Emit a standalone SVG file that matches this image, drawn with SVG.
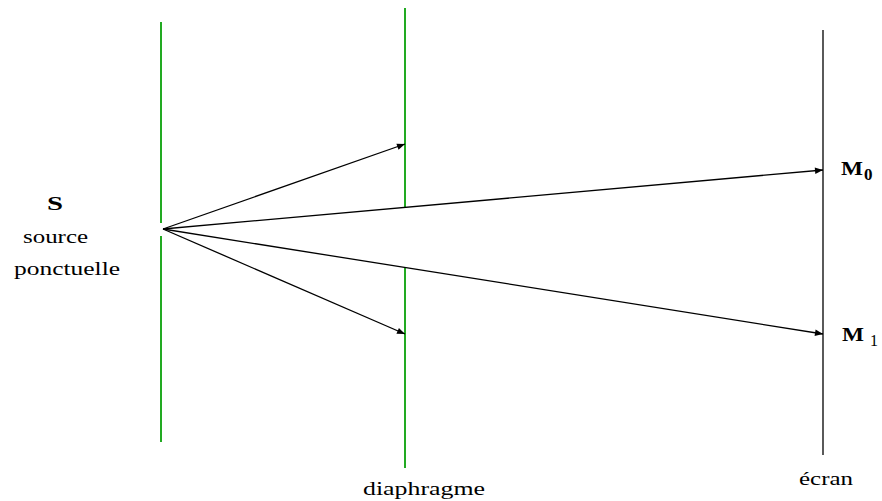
<svg xmlns="http://www.w3.org/2000/svg" width="882" height="501" viewBox="0 0 882 501">
<style>
.g{stroke:#22aa22;stroke-width:2;fill:none}
.k{stroke:#000;stroke-width:1.3;fill:none}
.t{font-family:"Times New Roman","Liberation Serif","DejaVu Serif",serif;font-size:19px;fill:#000}
.b{font-family:"Times New Roman","Liberation Serif","DejaVu Serif",serif;font-size:18px;font-weight:bold;fill:#000}
</style>
<defs>
<marker id="a" viewBox="0 0 10 10" refX="10" refY="5" markerWidth="10" markerHeight="8" markerUnits="userSpaceOnUse" orient="auto"><path d="M0,1 L10,5 L0,9 z" fill="#000"/></marker>
</defs>
<rect width="882" height="501" fill="#fff"/>
<g id="source">
<line class="g" x1="161" y1="22" x2="161" y2="223"/>
<line class="g" x1="161" y1="236" x2="161" y2="442"/>
<text class="b" x="47" y="210" textLength="16" lengthAdjust="spacingAndGlyphs">S</text>
<text class="t" x="23" y="243" textLength="65" lengthAdjust="spacingAndGlyphs">source</text>
<text class="t" x="14" y="275" textLength="106" lengthAdjust="spacingAndGlyphs">ponctuelle</text>
</g>
<g id="diaphragme">
<line class="g" x1="405" y1="8" x2="405" y2="208"/>
<line class="g" x1="405" y1="268" x2="405" y2="468"/>
<text class="t" x="363" y="495" textLength="122" lengthAdjust="spacingAndGlyphs">diaphragme</text>
</g>
<g id="ecran">
<line class="k" x1="823" y1="30" x2="823" y2="455" stroke-width="1.6"/>
<text class="t" x="799" y="485" textLength="54" lengthAdjust="spacingAndGlyphs">écran</text>
<text class="b" x="841" y="175"><tspan textLength="22" lengthAdjust="spacingAndGlyphs">M</tspan><tspan x="864" dy="5" font-size="17">0</tspan></text>
<text class="b" x="842" y="341"><tspan textLength="22" lengthAdjust="spacingAndGlyphs">M</tspan><tspan x="870" dy="5" font-size="16" font-weight="normal">1</tspan></text>
</g>
<g id="connectors">
<line class="k" x1="163" y1="229" x2="405" y2="144" marker-end="url(#a)"/>
<line class="k" x1="163" y1="229" x2="405" y2="334" marker-end="url(#a)"/>
<line class="k" x1="163" y1="229" x2="823" y2="170" marker-end="url(#a)"/>
<line class="k" x1="163" y1="229" x2="823" y2="334" marker-end="url(#a)"/>
</g>
</svg>
